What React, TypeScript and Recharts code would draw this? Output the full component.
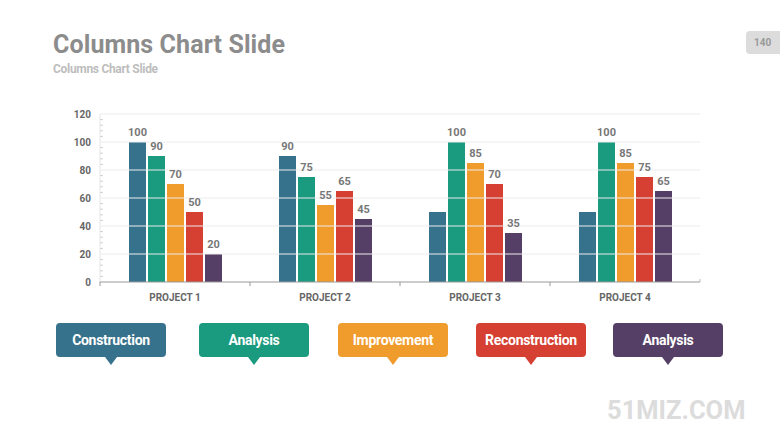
import React from "react";
import { BarChart, Bar, XAxis, YAxis, ReferenceLine, LabelList } from "recharts";

const categories = ["PROJECT 1", "PROJECT 2", "PROJECT 3", "PROJECT 4"];
const construction = [100, 90, 50, 50];
const constructionShowLabel = [true, true, false, false];
const analysis = [90, 75, 100, 100];
const improvement = [70, 55, 85, 85];
const reconstruction = [50, 65, 70, 75];
const analysis2 = [20, 45, 35, 65];

const seriesNames = ["Construction", "Analysis", "Improvement", "Reconstruction", "Analysis"];
const seriesKeys = ["construction", "analysis", "improvement", "reconstruction", "analysis2"];
const seriesColors = ["#36728c", "#1a9a7e", "#f09c2d", "#d54032", "#553f66"];

const majorTicks = [0, 20, 40, 60, 80, 100, 120];
const minorStep = 4;
const yMax = 120;

const title = "Columns Chart Slide";
const subtitle = "Columns Chart Slide";
const pageNumber = "140";
const watermark = "51MIZ.COM";

const allTicks: number[] = [];
for (let v = 0; v <= yMax; v += minorStep) allTicks.push(v);

const data = categories.map((name, i) => ({
  name,
  construction: construction[i],
  constructionLabel: constructionShowLabel[i] ? construction[i] : null,
  analysis: analysis[i],
  improvement: improvement[i],
  reconstruction: reconstruction[i],
  analysis2: analysis2[i],
}));

const FONT = "Roboto, 'Noto Sans', sans-serif";
const CHART_W = 780;
const CHART_H = 439;
const MARGIN = { top: 114, right: 80, bottom: 127, left: 60 };
const Y_AXIS_W = 40;
const PLOT_W = CHART_W - MARGIN.left - Y_AXIS_W - MARGIN.right;
const BAND = PLOT_W / categories.length;
const PILL_LEFTS = [56, 199, 338, 476, 613];

const YTick = (props: any) => {
  const { x, y, payload } = props;
  const v = payload.value;
  const major = majorTicks.includes(v);
  return (
    <g>
      {major ? (
        <text x={x - 1} y={y} dy={3.5} textAnchor="end" fontFamily={FONT} fontWeight={700} fontSize={10} fill="#666">
          {v}
        </text>
      ) : (
        <line x1={x + 8} x2={x + 11} y1={y} y2={y} stroke="#d0d0d0" strokeWidth={1} />
      )}
    </g>
  );
};

const XTick = (props: any) => {
  const { x, y, payload, index } = props;
  const left = x - BAND / 2;
  const right = x + BAND / 2;
  const axisY = y - 8;
  return (
    <g>
      <line x1={left} x2={left} y1={axisY} y2={axisY + 4} stroke="#999" />
      {index === categories.length - 1 && (
        <line x1={right} x2={right} y1={axisY - 3} y2={axisY} stroke="#bbb" />
      )}
      <text x={x} y={y + 11} textAnchor="middle" fontFamily={FONT} fontWeight={700} fontSize={10} fill="#666">
        {payload.value}
      </text>
    </g>
  );
};

const labelStyle = { fontFamily: FONT, fontWeight: 700, fontSize: 11, fill: "#777" };

const Pill = ({ name, color, left }: { name: string; color: string; left: number }) => (
  <div style={{ position: "absolute", left, top: 323, width: 110, height: 34 }}>
    <div
      style={{
        width: 110,
        height: 34,
        background: color,
        borderRadius: 4,
        color: "#fff",
        fontFamily: FONT,
        fontWeight: 700,
        fontSize: 14,
        letterSpacing: -0.3,
        display: "flex",
        alignItems: "center",
        justifyContent: "center",
      }}
    >
      {name}
    </div>
    <div
      style={{
        position: "absolute",
        left: 55 - 6,
        top: 34,
        width: 0,
        height: 0,
        borderLeft: "6px solid transparent",
        borderRight: "6px solid transparent",
        borderTop: `8px solid ${color}`,
      }}
    />
  </div>
);

export default function App() {
  return (
    <div style={{ position: "absolute", left: 0, top: 0, width: CHART_W, height: CHART_H, background: "#fff", overflow: "hidden" }}>
      <div style={{ position: "absolute", left: 53, top: 30, fontFamily: FONT, fontWeight: 700, fontSize: 25, letterSpacing: 0.1, color: "#8c8c8c", whiteSpace: "nowrap", lineHeight: "30px" }}>
        {title}
      </div>
      <div style={{ position: "absolute", left: 53, top: 62, fontFamily: FONT, fontWeight: 700, fontSize: 12, letterSpacing: -0.3, color: "#bdbdbd", whiteSpace: "nowrap", lineHeight: "15px" }}>
        {subtitle}
      </div>
      <div style={{ position: "absolute", left: 746, top: 31, width: 40, height: 23, background: "#dcdcdc", borderRadius: 4, fontFamily: FONT, fontWeight: 700, fontSize: 10, color: "#999", lineHeight: "23px", paddingLeft: 8, boxSizing: "border-box" }}>
        {pageNumber}
      </div>
      <div style={{ position: "absolute", left: 0, top: 0 }}>
        <BarChart width={CHART_W} height={CHART_H} data={data} margin={MARGIN} barSize={17} barGap={2}>
          {majorTicks.filter((v) => v > 0).map((v) => (
            <ReferenceLine key={v} y={v} stroke="#ececec" strokeWidth={1} />
          ))}
          <YAxis
            width={Y_AXIS_W}
            domain={[0, yMax]}
            ticks={allTicks}
            interval={0}
            axisLine={{ stroke: "#e6e6e6" }}
            tickLine={false}
            tick={<YTick />}
          />
          <XAxis
            dataKey="name"
            height={30}
            axisLine={{ stroke: "#999" }}
            tickLine={false}
            tick={<XTick />}
            interval={0}
          />
          {seriesKeys.map((k, i) => (
            <Bar key={k} dataKey={k} fill={seriesColors[i]} isAnimationActive={false}>
              <LabelList
                dataKey={k === "construction" ? "constructionLabel" : k}
                position="top"
                offset={6}
                style={labelStyle}
              />
            </Bar>
          ))}
        </BarChart>
      </div>
      {seriesNames.map((n, i) => (
        <Pill key={i} name={n} color={seriesColors[i]} left={PILL_LEFTS[i]} />
      ))}
      <div style={{ position: "absolute", left: 607, top: 395, fontFamily: FONT, fontWeight: 700, fontSize: 25.5, color: "#dcdcdc", whiteSpace: "nowrap", lineHeight: "30px" }}>
        {watermark}
      </div>
    </div>
  );
}
